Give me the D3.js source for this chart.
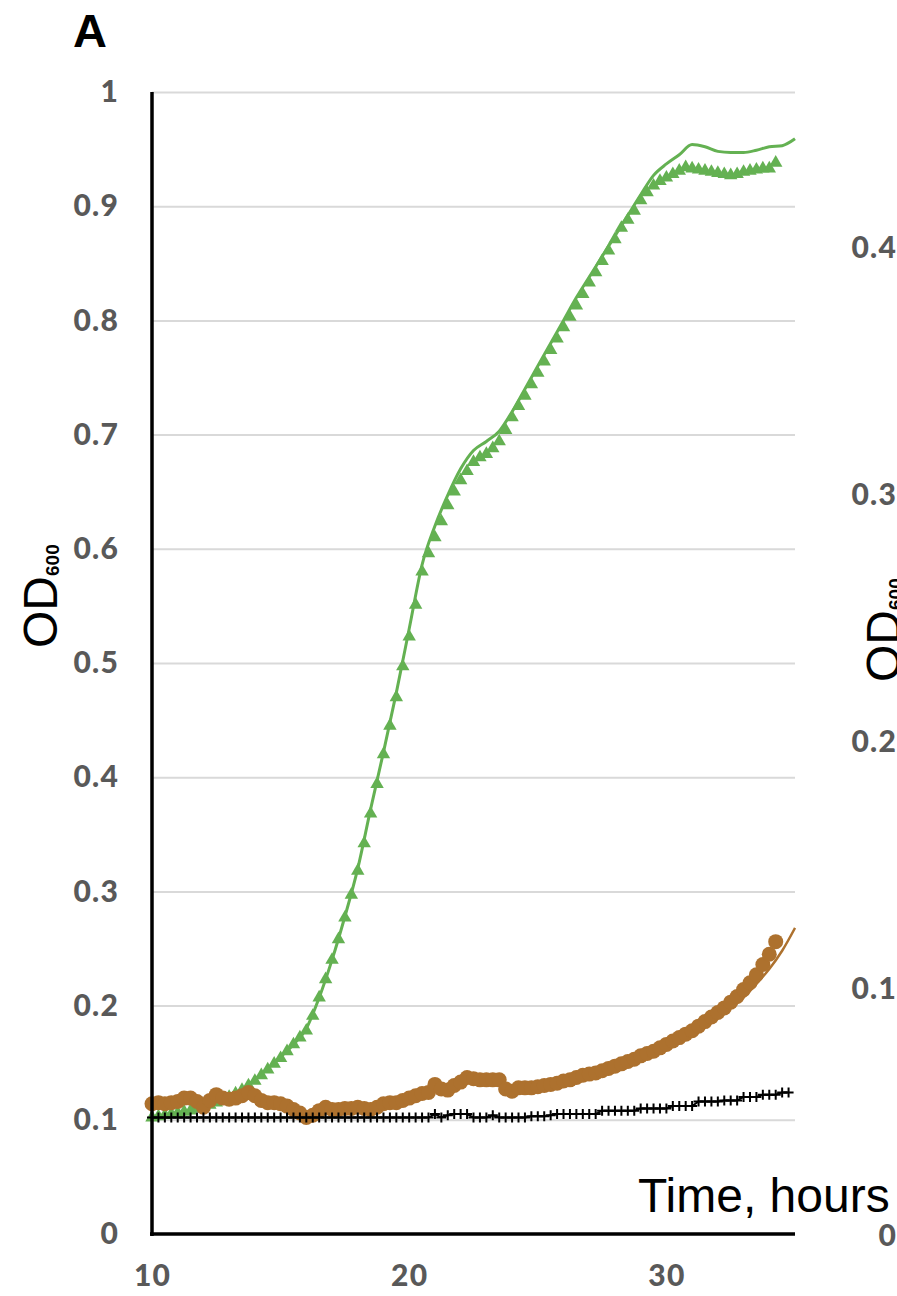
<!doctype html>
<html>
<head>
<meta charset="utf-8"/>
<title>OD600 growth curves</title>
<script src="https://cdnjs.cloudflare.com/ajax/libs/d3/7.8.5/d3.min.js"></script>
<style>
  body { margin: 0; background: #fff; }
  .tick text { font-family: Lato, "Open Sans", sans-serif; font-weight: 900; fill: #595959; letter-spacing: 1.2px; }
</style>
</head>
<body>
<svg id="chart" width="897" height="1296"></svg>
<script>
// sampling times (hours), one reading every 15 min
var hours = [10,10.25,10.5,10.75,11,11.25,11.5,11.75,12,12.25,12.5,12.75,
  13,13.25,13.5,13.75,14,14.25,14.5,14.75,15,15.25,15.5,15.75,
  16,16.25,16.5,16.75,17,17.25,17.5,17.75,18,18.25,18.5,18.75,
  19,19.25,19.5,19.75,20,20.25,20.5,20.75,21,21.25,21.5,21.75,
  22,22.25,22.5,22.75,23,23.25,23.5,23.75,24,24.25,24.5,24.75,
  25,25.25,25.5,25.75,26,26.25,26.5,26.75,27,27.25,27.5,27.75,
  28,28.25,28.5,28.75,29,29.25,29.5,29.75,30,30.25,30.5,30.75,
  31,31.25,31.5,31.75,32,32.25,32.5,32.75,33,33.25,33.5,33.75,
  34,34.25,34.5,34.75];

// green triangles (to 34.25 h)
var greenTri = [0.102,0.103,0.104,0.105,0.106,0.107,0.108,0.110,0.111,0.113,0.115,0.117,
  0.120,0.123,0.126,0.130,0.134,0.139,0.144,0.149,0.154,0.160,0.166,0.172,
  0.178,0.191,0.207,0.223,0.240,0.258,0.277,0.297,0.318,0.342,0.368,0.394,
  0.420,0.445,0.470,0.497,0.523,0.551,0.580,0.596,0.610,0.624,0.638,0.650,
  0.660,0.668,0.676,0.680,0.683,0.688,0.694,0.704,0.715,0.725,0.734,0.744,
  0.754,0.764,0.774,0.784,0.794,0.803,0.813,0.823,0.833,0.842,0.852,0.861,
  0.871,0.881,0.888,0.896,0.905,0.912,0.918,0.922,0.925,0.928,0.931,0.934,
  0.933,0.932,0.931,0.930,0.929,0.928,0.927,0.928,0.930,0.931,0.932,0.933,
  0.933,0.938];

// brown circles (to 34.25 h)
var brownDots = [0.114,0.115,0.114,0.115,0.116,0.119,0.119,0.116,0.111,0.117,0.122,0.119,
  0.118,0.119,0.121,0.124,0.121,0.117,0.115,0.115,0.114,0.112,0.109,0.106,
  0.102,0.104,0.108,0.111,0.109,0.109,0.110,0.110,0.111,0.110,0.109,0.111,
  0.114,0.115,0.115,0.117,0.119,0.121,0.123,0.124,0.131,0.127,0.126,0.130,
  0.133,0.137,0.136,0.135,0.135,0.135,0.135,0.127,0.125,0.128,0.128,0.128,
  0.129,0.130,0.131,0.132,0.134,0.135,0.137,0.139,0.140,0.141,0.143,0.145,
  0.147,0.149,0.151,0.153,0.156,0.158,0.160,0.163,0.166,0.169,0.172,0.175,
  0.178,0.182,0.186,0.190,0.194,0.198,0.203,0.208,0.214,0.220,0.227,0.236,
  0.245,0.256];

// black crosses (to 34.75 h)
var blackPlus = [0.102,0.102,0.102,0.102,0.102,0.102,0.102,0.102,0.102,0.102,0.102,0.102,
  0.102,0.102,0.102,0.102,0.102,0.102,0.102,0.102,0.102,0.102,0.102,0.102,
  0.102,0.102,0.102,0.102,0.102,0.102,0.102,0.102,0.102,0.102,0.102,0.102,
  0.102,0.102,0.102,0.102,0.102,0.102,0.102,0.102,0.105,0.102,0.104,0.105,
  0.105,0.105,0.102,0.102,0.102,0.104,0.102,0.102,0.102,0.102,0.102,0.103,
  0.103,0.103,0.104,0.105,0.105,0.105,0.105,0.105,0.105,0.105,0.108,0.108,
  0.108,0.108,0.108,0.108,0.110,0.110,0.110,0.110,0.110,0.112,0.112,0.112,
  0.112,0.116,0.116,0.116,0.116,0.117,0.117,0.117,0.120,0.120,0.120,0.122,
  0.122,0.122,0.124,0.124];

// smooth replicate lines
var greenLineHours = [10,10.5,11,11.5,12,12.5,13,13.5,14,14.5,15,15.5,16,16.5,17,17.5,18,18.5,
  19,19.5,20,20.5,21,21.5,22,22.5,23,23.5,24,24.5,25,25.5,26,26.5,27,27.5,28,28.5,
  29,29.5,30,30.5,31,31.5,32,32.5,33,33.5,34,34.5,35];
var greenLine = [0.102,0.104,0.106,0.108,0.111,0.115,0.121,0.127,0.135,0.145,0.155,0.166,0.180,0.207,0.240,0.278,0.320,0.372,
  0.422,0.474,0.530,0.586,0.620,0.647,0.670,0.686,0.694,0.703,0.720,0.740,0.760,0.780,0.800,0.820,0.838,0.856,0.874,0.892,
  0.910,0.927,0.937,0.945,0.954,0.952,0.948,0.947,0.947,0.949,0.952,0.953,0.959];

var brownLineHours = [10,11,12,13,14,15,16,17,18,19,20,21,22,23,24,25,26,27,28,29,30,31,32,33,33.5,34,34.5,35];
var brownLine = [0.113,0.115,0.116,0.118,0.119,0.113,0.105,0.109,0.110,0.113,0.118,0.127,0.133,0.135,0.127,0.129,0.134,0.140,
  0.147,0.155,0.165,0.176,0.190,0.207,0.219,0.232,0.248,0.268];

var yTicks = [0,0.1,0.2,0.3,0.4,0.5,0.6,0.7,0.8,0.9,1];
var xTicks = [10,20,30];
var rightTicks = [0,0.1,0.2,0.3,0.4];

var GREEN = "#64b152", BROWN = "#ad712e";

var svg = d3.select("#chart");
svg.append("rect").attr("width",897).attr("height",1296).attr("fill","#fff");

var x = d3.scaleLinear().domain([10,35]).range([152,795]);
var y = d3.scaleLinear().domain([0,1]).range([1234,92]);
var yRight = d3.scaleLinear().domain([0,0.4]).range([1236,248]);

// gridlines
svg.append("g")
  .attr("transform","translate(152,0)")
  .call(d3.axisLeft(y).tickValues(yTicks.slice(1)).tickSize(-643).tickFormat(""))
  .call(g => g.select(".domain").remove())
  .call(g => g.selectAll("line").attr("stroke","#d9d9d9").attr("stroke-width",2));

// y tick labels
svg.append("g")
  .attr("transform","translate(152,0)")
  .call(d3.axisLeft(y).tickValues(yTicks).tickSize(0).tickPadding(33).tickFormat(d3.format("")))
  .call(g => g.select(".domain").remove())
  .call(g => g.selectAll("text").style("font-size","30px"));

// x tick labels
svg.append("g")
  .attr("transform","translate(0,1234)")
  .call(d3.axisBottom(x).tickValues(xTicks).tickSize(0).tickPadding(31))
  .call(g => g.select(".domain").remove())
  .call(g => g.selectAll("text").style("font-size","30px"));

// right panel tick labels (cut off)
svg.append("g")
  .attr("transform","translate(935,0)")
  .call(d3.axisLeft(yRight).tickValues(rightTicks).tickSize(0).tickPadding(38).tickFormat(d3.format("")))
  .call(g => g.select(".domain").remove())
  .call(g => g.selectAll("text").style("font-size","30px"));

// lines
var smooth = d3.line().x(d => x(d[0])).y(d => y(d[1])).curve(d3.curveMonotoneX);
svg.append("path")
  .datum(d3.zip(greenLineHours, greenLine))
  .attr("d", smooth).attr("fill","none").attr("stroke",GREEN).attr("stroke-width",3);

svg.append("path")
  .datum(d3.zip(brownLineHours, brownLine))
  .attr("d", smooth).attr("fill","none").attr("stroke",BROWN).attr("stroke-width",2.5);

// green triangles
var tri = d3.symbol().type(d3.symbolTriangle).size(78);
svg.append("g").selectAll("path")
  .data(d3.zip(hours.slice(0,greenTri.length), greenTri))
  .enter().append("path")
  .attr("d", tri)
  .attr("transform", d => "translate(" + x(d[0]) + "," + y(d[1]) + ")")
  .attr("fill", GREEN);

// brown circles
svg.append("g").selectAll("circle")
  .data(d3.zip(hours.slice(0,brownDots.length), brownDots))
  .enter().append("circle")
  .attr("cx", d => x(d[0])).attr("cy", d => y(d[1])).attr("r", 7.5)
  .attr("fill", BROWN);

// black crosses with connecting line
var blackData = d3.zip(hours.slice(0,blackPlus.length), blackPlus);
svg.append("path")
  .datum(blackData)
  .attr("d", d3.line().x(d => x(d[0])).y(d => y(d[1])))
  .attr("fill","none").attr("stroke","#000").attr("stroke-width",2);
svg.append("g").selectAll("path")
  .data(blackData)
  .enter().append("path")
  .attr("d", "M-5,0H5M0,-5V5")
  .attr("transform", d => "translate(" + x(d[0]) + "," + y(d[1]) + ")")
  .attr("stroke","#000").attr("stroke-width",2);

// axis lines
svg.append("line").attr("x1",152).attr("x2",152).attr("y1",y(1)).attr("y2",y(0)+2)
  .attr("stroke","#000").attr("stroke-width",3.5);
svg.append("line").attr("x1",150).attr("x2",x(35)).attr("y1",y(0)).attr("y2",y(0))
  .attr("stroke","#000").attr("stroke-width",3.5);

// titles
svg.append("text").attr("x",73).attr("y",47)
  .style("font-family","'Liberation Sans', Arial, sans-serif").style("font-weight","bold").style("font-size","47px")
  .text("A");

svg.append("text").attr("x",638).attr("y",1212)
  .style("font-family","'Liberation Sans', Arial, sans-serif").style("font-size","48px")
  .text("Time, hours");

function odLabel(tx, ty) {
  var t = svg.append("text")
    .attr("transform","translate(" + tx + "," + ty + ") rotate(-90)")
    .style("font-family","'Liberation Sans', Arial, sans-serif").style("font-size","48px");
  t.append("tspan").text("OD");
  t.append("tspan").attr("dy",2).style("font-size","19px").style("font-weight","bold").text("600");
}
odLabel(57, 648);
odLabel(900, 682);
</script>
</body>
</html>
